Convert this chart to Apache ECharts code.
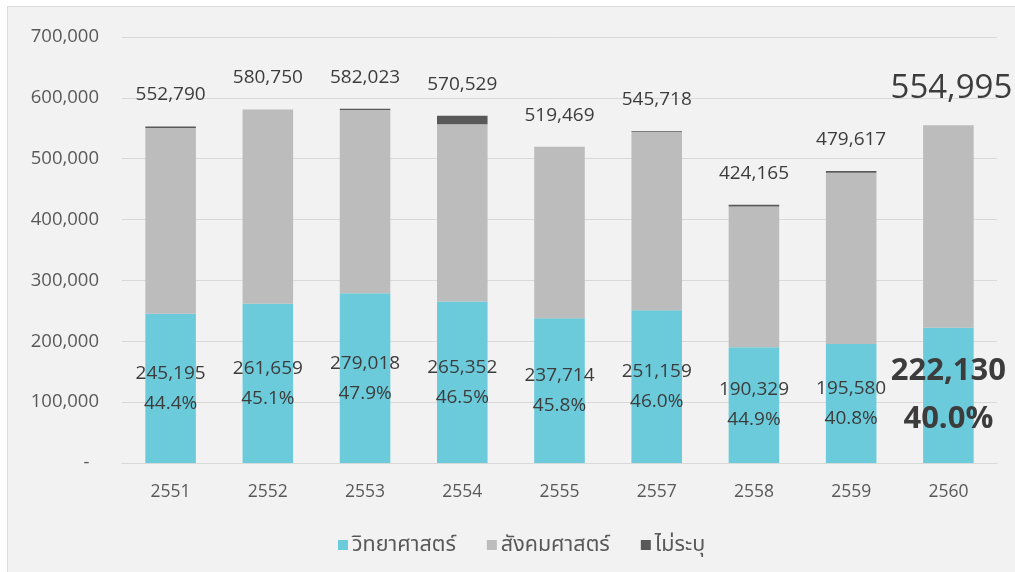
<!DOCTYPE html>
<html>
<head>
<meta charset="utf-8">
<script src="https://cdn.jsdelivr.net/npm/echarts@6/dist/echarts.min.js"></script>
<style>
  html, body { margin: 0; padding: 0; background: #ffffff; width: 1015px; height: 572px; overflow: hidden; }
  #chart { position: absolute; left: 7px; top: 6px; width: 1007px; height: 565px;
           border-left: 1px solid #dcdcdc; border-top: 1px solid #dcdcdc; }
</style>
</head>
<body>
<div id="chart"></div>
<script>
// Academic years (B.E.)
const years = ['2551', '2552', '2553', '2554', '2555', '2557', '2558', '2559', '2560'];
// Science
const science = [245195, 261659, 279018, 265352, 237714, 251159, 190329, 195580, 222130];
// Social science
const social = [305095, 319091, 301005, 291177, 281755, 293059, 231336, 281537, 332865];
// Not specified
const unspecified = [2500, 0, 2000, 14000, 0, 1500, 2500, 2500, 0];
// Totals shown above each bar
const totals = [552790, 580750, 582023, 570529, 519469, 545718, 424165, 479617, 554995];
// Science share of total
const sciShare = ['44.4%', '45.1%', '47.9%', '46.5%', '45.8%', '46.0%', '44.9%', '40.8%', '40.0%'];
// Y axis ticks
const yTicks = [0, 100000, 200000, 300000, 400000, 500000, 600000, 700000];

const FONT = '"Open Sans", "Noto Sans", "Noto Sans Thai", "DejaVu Sans", sans-serif';
const TEXT = '#3c3c3c';
const fmt = v => v.toLocaleString('en-US');
const last = years.length - 1;

const chart = echarts.init(document.getElementById('chart'), null, { renderer: 'canvas' });

const scienceData = science.map((v, i) => {
  const item = { value: v };
  if (i === last) {
    item.label = {
      formatter: '{b|' + fmt(v) + '}\n{b|' + sciShare[i] + '}',
      rich: { b: { fontFamily: FONT, fontSize: 31, fontWeight: 'bold', color: TEXT, lineHeight: 48 } }
    };
  }
  return item;
});

const totalData = totals.map((v, i) => {
  const item = { value: v };
  if (i === last) {
    item.label = { fontSize: 33, distance: 19, offset: [3, 0] };
  }
  return item;
});

chart.setOption({
  animation: false,
  backgroundColor: '#f2f2f2',
  textStyle: { fontFamily: FONT },
  grid: { left: 114, right: 18, top: 30, bottom: 109, containLabel: false },
  legend: {
    left: 325,
    top: 522,
    itemWidth: 10,
    itemHeight: 10,
    itemGap: 31,
    icon: 'rect',
    textStyle: { fontFamily: FONT, fontSize: 21.5, color: '#595959', padding: [0, 0, 0, -1] },
    data: ['วิทยาศาสตร์', 'สังคมศาสตร์', 'ไม่ระบุ']
  },
  xAxis: {
    type: 'category',
    data: years,
    axisLine: { lineStyle: { color: '#d9d9d9' } },
    axisTick: { show: false },
    axisLabel: { fontFamily: FONT, fontSize: 17.5, color: '#595959', margin: 20 }
  },
  yAxis: {
    type: 'value',
    min: yTicks[0],
    max: yTicks[yTicks.length - 1],
    interval: yTicks[1] - yTicks[0],
    axisLine: { show: false },
    axisTick: { show: false },
    splitLine: { lineStyle: { color: '#d9d9d9' } },
    axisLabel: {
      fontFamily: FONT, fontSize: 18.5, color: '#595959', margin: 23,
      formatter: v => (v === 0 ? '-  ' : fmt(v))
    }
  },
  series: [
    {
      name: 'วิทยาศาสตร์',
      type: 'bar',
      stack: 'total',
      barWidth: '52%',
      itemStyle: { color: '#6ccbdb' },
      label: {
        show: true,
        position: 'inside',
        fontFamily: FONT,
        fontSize: 19,
        lineHeight: 30,
        color: TEXT,
        formatter: p => fmt(p.value) + '\n' + sciShare[p.dataIndex]
      },
      data: scienceData
    },
    {
      name: 'สังคมศาสตร์',
      type: 'bar',
      stack: 'total',
      itemStyle: { color: '#bcbcbc' },
      data: social
    },
    {
      name: 'ไม่ระบุ',
      type: 'bar',
      stack: 'total',
      itemStyle: { color: '#595959' },
      data: unspecified
    },
    {
      name: 'รวม',
      type: 'scatter',
      symbolSize: 2,
      itemStyle: { color: 'rgba(0,0,0,0)' },
      label: {
        show: true,
        position: 'top',
        distance: 21,
        fontFamily: FONT,
        fontSize: 19,
        color: TEXT,
        opacity: 1,
        formatter: p => fmt(p.value)
      },
      data: totalData
    }
  ]
});
</script>
</body>
</html>
